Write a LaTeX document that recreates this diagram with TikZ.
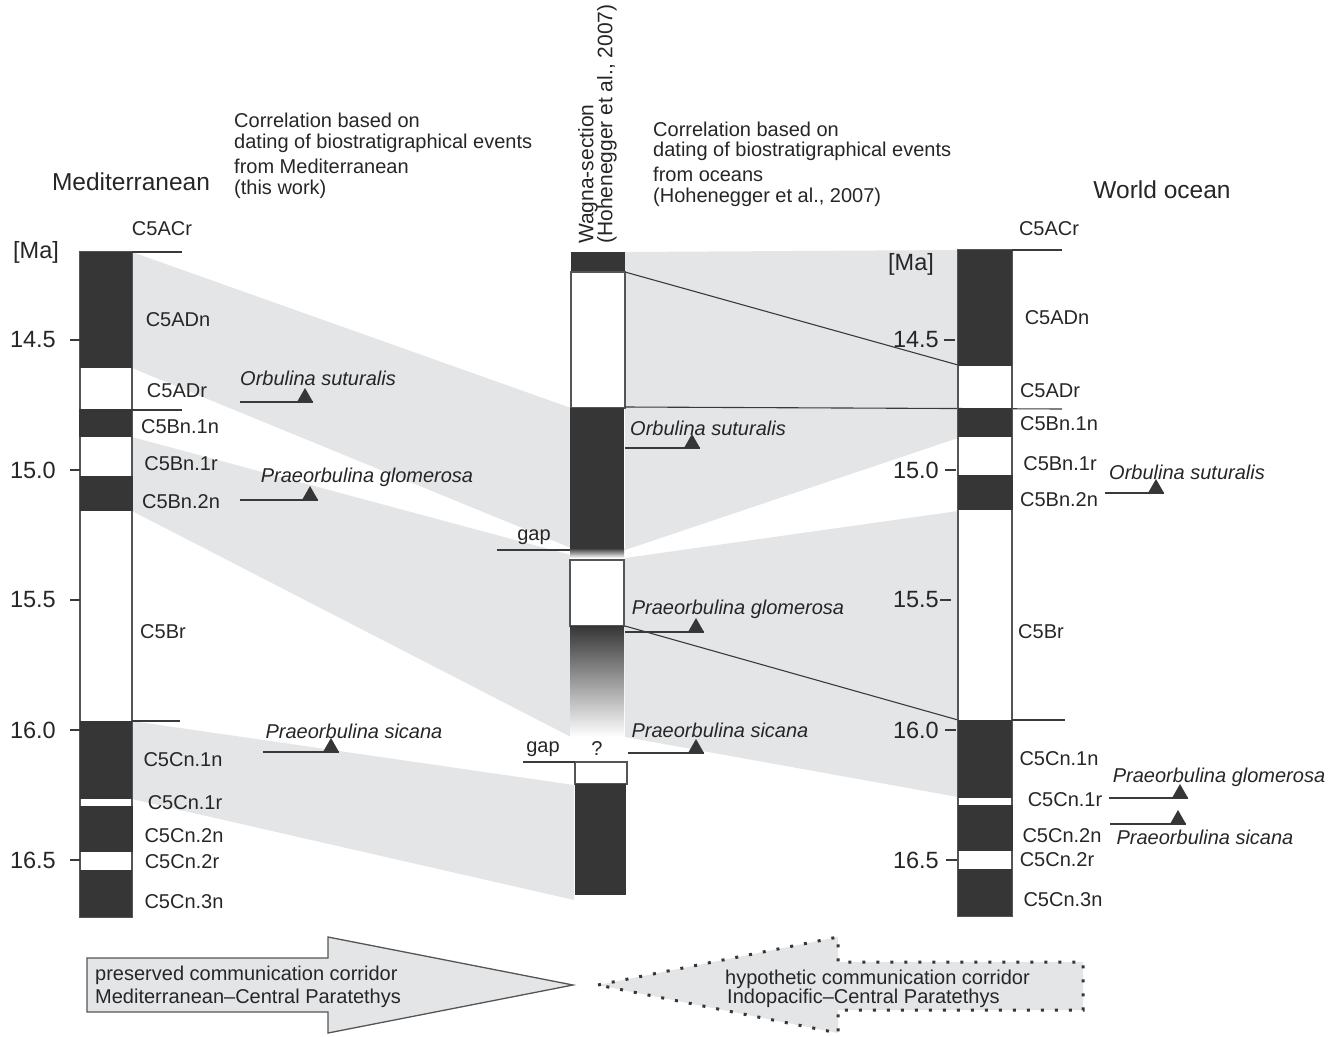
\documentclass[tikz,border=0pt]{standalone}
\usepackage{fontspec}
\setmainfont{Liberation Sans}
\definecolor{blkc}{HTML}{363636}
\definecolor{bandc}{HTML}{E4E5E7}
\definecolor{linec}{HTML}{3A3A3A}
\definecolor{colc}{HTML}{555555}
\tikzset{
  lab/.style={font=\fontsize{20}{24}\selectfont, inner sep=0pt, text=black!85},
  ev/.style={font=\fontsize{20}{24}\selectfont\itshape, inner sep=0pt, text=black!85},
  ticklab/.style={font=\fontsize{23.5}{28}\selectfont, inner sep=0pt, anchor=east, text=black!85},
  head/.style={font=\fontsize{24.5}{28}\selectfont, inner sep=0pt, text=black!85},
  corr/.style={font=\fontsize{20}{24}\selectfont, inner sep=0pt, anchor=west, text=black!85},
  band/.style={fill=bandc},
  blkfill/.style={fill=blkc},
  thinln/.style={draw=linec, line width=1.1pt},
  colln/.style={draw=colc, line width=1.2pt},
  evline/.style={draw=linec, line width=1.3pt},
  arrowsolid/.style={draw=colc, line width=1.3pt, fill=bandc},
  arrowdot/.style={draw=blkc, line width=3pt, dash pattern=on 3pt off 11pt, fill=bandc},
}
\newcommand{\evt}[7]{%
  \node[ev] (#1) at (#3,#4) {#2};
  \draw[evline] (#6,#5) -- (#7,#5);
  \fill[blkc] ({#7-16},#5) -- (#7,#5) -- ({#7-8},{#5-14}) -- cycle;
}
\begin{document}
\begin{tikzpicture}[x=1pt,y=-1pt]
\useasboundingbox (0,0) rectangle (1340,1036);

% ---------- correlation bands ----------
\fill[band] (132,252) -- (571,408) -- (571,548) -- (132,368) -- cycle;
\fill[band] (132,437) -- (571,555) -- (571,737) -- (132,511) -- cycle;
\fill[band] (132,721) -- (574,785) -- (574,900) -- (132,799) -- cycle;
\fill[band] (625,252) -- (958,250) -- (958,438) -- (625,550) -- cycle;
\fill[band] (625,558) -- (958,511) -- (958,797) -- (625,737) -- cycle;

% ---------- left column (Mediterranean) ----------
\draw[colln] (80,252) rectangle (132,917);
\fill[blkfill] (80,252) rectangle (132,368);
\fill[blkfill] (79,409) rectangle (132,437);
\fill[blkfill] (80,476) rectangle (133,511);
\fill[blkfill] (80,721) rectangle (132,799);
\fill[blkfill] (80,806) rectangle (133,852);
\fill[blkfill] (80,870) rectangle (132,917);
\draw[thinln] (132,252) -- (182,252);
\draw[thinln] (132,410) -- (182,410);
\draw[thinln] (132,721) -- (180,721);
\foreach \yy/\tt in {340/14.5,470/15.0,600/15.5,730/16.0,860/16.5}{
  \draw[thinln] (70,\yy) -- (80,\yy);
  \node[ticklab] at (56,\yy) {\tt};
}
\node[head] (medit) at (131,182) {Mediterranean};
\node[ticklab,anchor=center] (maL) at (36,252) {[Ma]};
\node[lab] (lC5ACr) at (162,229) {C5ACr};
\node[lab] (lC5ADn) at (178,320) {C5ADn};
\node[lab] (lC5ADr) at (177,391) {C5ADr};
\node[lab] (lC5Bn1n) at (180,427) {C5Bn.1n};
\node[lab] (lC5Bn1r) at (181,464) {C5Bn.1r};
\node[lab] (lC5Bn2n) at (181,502) {C5Bn.2n};
\node[lab] (lC5Br) at (163,632) {C5Br};
\node[lab] (lC5Cn1n) at (183,760) {C5Cn.1n};
\node[lab] (lC5Cn1r) at (185,803) {C5Cn.1r};
\node[lab] (lC5Cn2n) at (184,836) {C5Cn.2n};
\node[lab] (lC5Cn2r) at (182,862) {C5Cn.2r};
\node[lab] (lC5Cn3n) at (184,902) {C5Cn.3n};

% ---------- middle column (Wagna) ----------
\fill[blkfill] (571,252) rectangle (625,272);
\draw[colln, fill=white] (571,272) rectangle (625,408);
\fill[blkfill] (570,408) rectangle (624,548);
\shade[top color=blkc, bottom color=white] (570,548) rectangle (624,558);
\draw[colln, fill=white] (570,560) rectangle (624,626);
\shade[top color=blkc, bottom color=white] (570,626) rectangle (624,737);
\draw[colln, fill=white] (575,762) rectangle (627,784);
\fill[blkfill] (575,784) rectangle (626,895);
\draw[thinln] (497,550) -- (570,550);
\draw[thinln] (523,762) -- (575,762);
\node[lab] (gap1) at (534,537) {gap};
\node[lab] (gap2) at (543,749) {gap};
\node[lab] (qm) at (597,749) {?};
\node[font=\fontsize{21}{24}\selectfont, inner sep=0pt, rotate=90, anchor=west, text=black!85] (wag1) at (588,244) {Wagna-section};
\node[font=\fontsize{21}{24}\selectfont, inner sep=0pt, rotate=90, anchor=west, text=black!85] (wag2) at (607,244) {(Hohenegger et al., 2007)};

% correlation lines middle -> right
\draw[thinln] (625,272) -- (958,365);
\draw[thinln] (625,407) -- (1062,409);
\draw[thinln] (625,626) -- (958,720);

% ---------- right column (World ocean) ----------
\draw[colln] (958,250) rectangle (1012,916);
\fill[blkfill] (958,250) rectangle (1012,366);
\fill[blkfill] (958,408) rectangle (1012,437);
\fill[blkfill] (958,475) rectangle (1013,510);
\fill[blkfill] (958,720) rectangle (1012,798);
\fill[blkfill] (958,805) rectangle (1013,851);
\fill[blkfill] (958,869) rectangle (1012,916);
\draw[thinln] (1012,250) -- (1062,250);
\draw[thinln] (1012,720) -- (1065,720);
\foreach \yy/\tt/\xa in {340/14.5/944,470/15.0/945,600/15.5/940,730/16.0/945,860/16.5/946}{
  \draw[thinln] (\xa,\yy) -- ({\xa+11},\yy);
  \node[ticklab] at (939,\yy) {\tt};
}
\node[head] (wocean) at (1162,190) {World ocean};
\node[ticklab,anchor=center] (maR) at (911,264) {[Ma]};
\node[lab] (rC5ACr) at (1049,229) {C5ACr};
\node[lab] (rC5ADn) at (1057,318) {C5ADn};
\node[lab] (rC5ADr) at (1050,391) {C5ADr};
\node[lab] (rC5Bn1n) at (1059,424) {C5Bn.1n};
\node[lab] (rC5Bn1r) at (1060,464) {C5Bn.1r};
\node[lab] (rC5Bn2n) at (1059,500) {C5Bn.2n};
\node[lab] (rC5Br) at (1041,632) {C5Br};
\node[lab] (rC5Cn1n) at (1059,759) {C5Cn.1n};
\node[lab] (rC5Cn1r) at (1065,800) {C5Cn.1r};
\node[lab] (rC5Cn2n) at (1062,836) {C5Cn.2n};
\node[lab] (rC5Cn2r) at (1057,860) {C5Cn.2r};
\node[lab] (rC5Cn3n) at (1063,900) {C5Cn.3n};

% ---------- biostratigraphic events ----------
\evt{eL1}{Orbulina suturalis}{318}{378}{402}{240}{313}
\evt{eL2}{Praeorbulina glomerosa}{367}{477}{500}{240}{318}
\evt{eL3}{Praeorbulina sicana}{354}{731}{752}{263}{339}
\evt{eM1}{Orbulina suturalis}{708}{428}{448}{625}{700}
\evt{eM2}{Praeorbulina glomerosa}{738}{609}{632}{625}{704}
\evt{eM3}{Praeorbulina sicana}{720}{730}{753}{628}{704}
\evt{eR1}{Orbulina suturalis}{1187}{472}{493}{1105}{1164}
\evt{eR2}{Praeorbulina glomerosa}{1219}{777}{798}{1109}{1188}
\evt{eR3}{Praeorbulina sicana}{1205}{837}{824}{1110}{1186}

% ---------- header texts ----------
\node[corr] (c1a) at (234,120) {Correlation based on};
\node[corr] (c1b) at (234,143) {dating of biostratigraphical events};
\node[corr] (c1c) at (234,166) {from Mediterranean};
\node[corr] (c1d) at (234,189) {(this work)};
\node[corr] (c2a) at (653,129) {Correlation based on};
\node[corr] (c2b) at (653,151) {dating of biostratigraphical events};
\node[corr] (c2c) at (653,174) {from oceans};
\node[corr] (c2d) at (653,197) {(Hohenegger et al., 2007)};

% ---------- corridor arrows ----------
\draw[arrowsolid] (87,958) -- (328,958) -- (328,937) -- (573,985) -- (328,1033) -- (328,1012) -- (87,1012) -- cycle;
\draw[arrowdot] (598,985) -- (838,937) -- (838,962) -- (1083,962) -- (1083,1010) -- (838,1010) -- (838,1033) -- cycle;
\node[corr] (a1a) at (95,975) {preserved communication corridor};
\node[corr] (a1b) at (95,998) {Mediterranean–Central Paratethys};
\node[corr] (a2a) at (725,979) {hypothetic communication corridor};
\node[corr] (a2b) at (727,998) {Indopacific–Central Paratethys};
\end{tikzpicture}
\end{document}
